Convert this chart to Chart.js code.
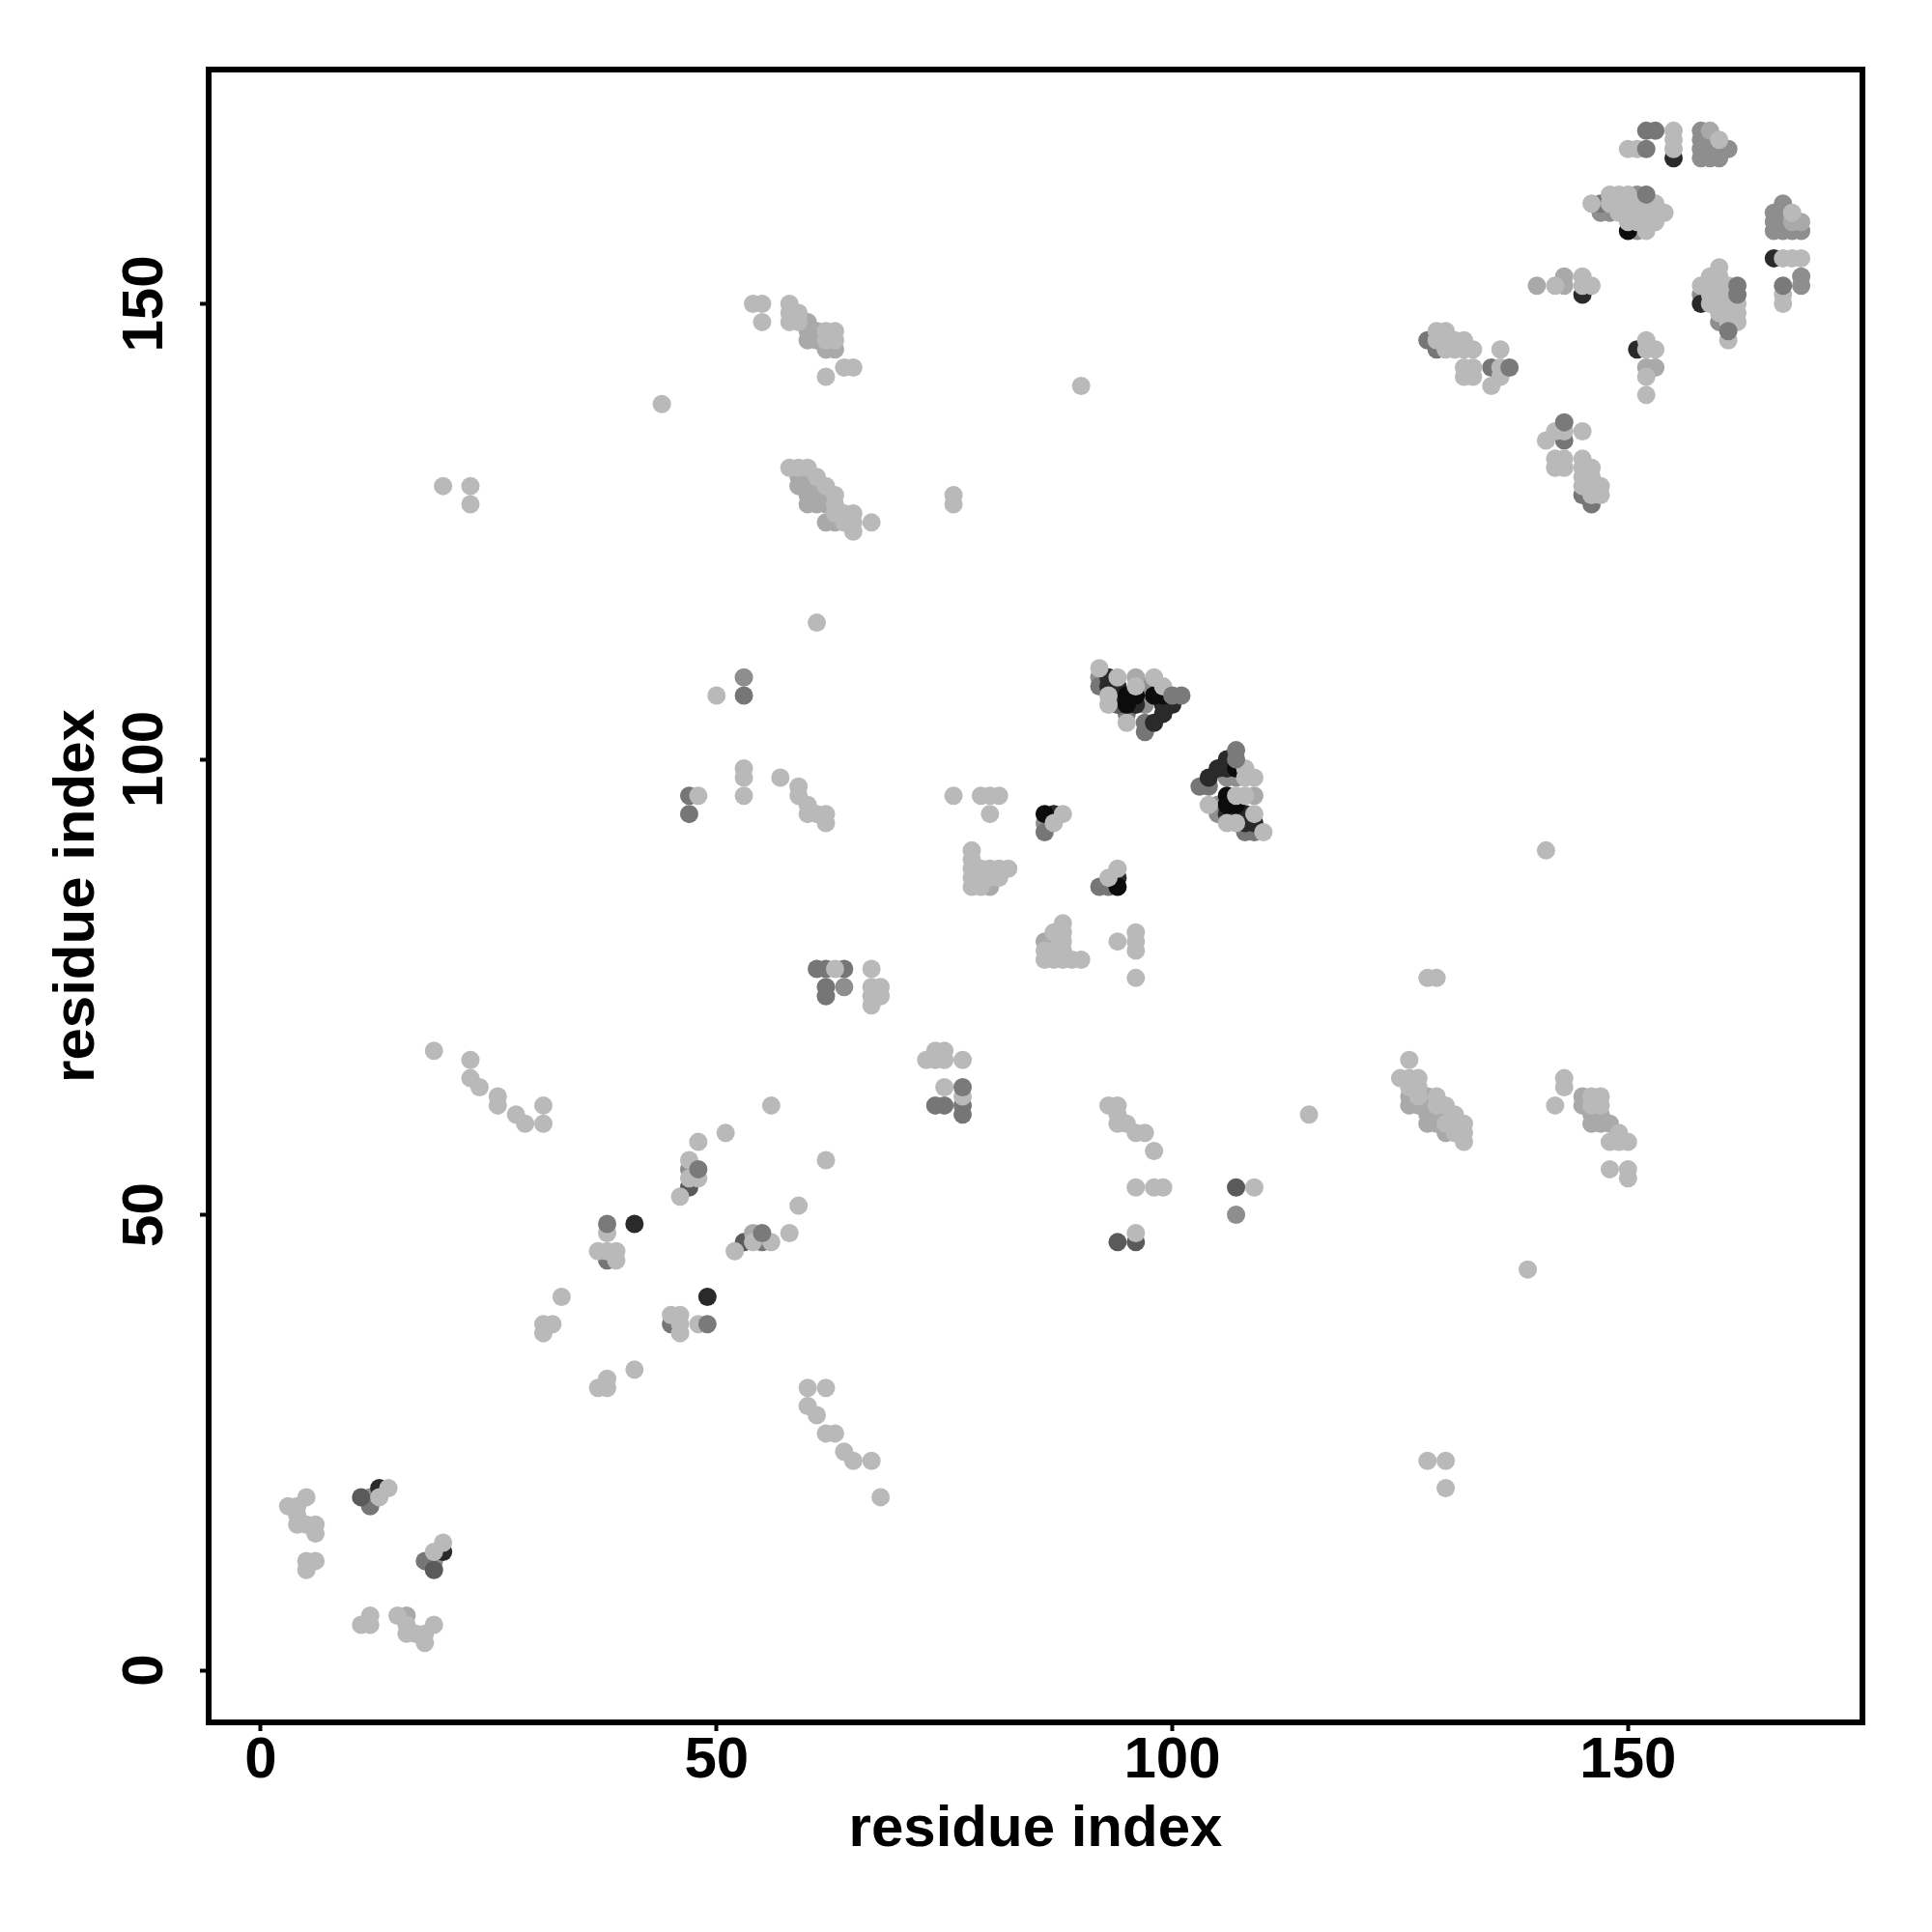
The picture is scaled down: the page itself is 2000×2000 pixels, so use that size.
<!DOCTYPE html>
<html>
<head>
<meta charset="utf-8">
<style>
  html, body { margin: 0; background: #fff; }
  canvas { display: block; }
</style>
<script src="https://cdn.jsdelivr.net/npm/chart.js@4/dist/chart.umd.min.js"></script>
</head>
<body>
<canvas id="chart" width="2000" height="2000"></canvas>
<script>
const tickValues = [0, 50, 100, 150];
const xLabel = 'residue index';
const yLabel = 'residue index';

// contacts as [residue x, residue y], one list per grey level
const greyPoints = [[158,169],[158,168],[158,167],[158,166],[159,168],[159,167],[161,167],[160,166],[159,166],[160,167],[151,162],[148,160],[147,160],[167,161],[166,160],[166,159],[166,158],[167,160],[167,159],[167,158],[168,158],[169,158],[169,153],[169,152],[158,151],[160,148],[161,148],[151,158],[92,109],[97,108],[97,107],[97,106],[106,98],[107,98],[105,95],[105,94],[86,93],[53,109],[107,50],[64,75],[12,19],[19,12],[47,55]];
const midPoints = [[152,169],[153,169],[147,161],[128,146],[129,145],[135,143],[143,135],[145,129],[146,128],[92,108],[95,105],[103,97],[104,97],[97,104],[97,103],[108,92],[109,92],[86,92],[92,86],[93,86],[61,77],[62,77],[64,77],[62,75],[62,74],[74,62],[75,62],[77,62],[77,61],[55,47],[38,45],[45,38],[47,96],[47,94],[53,107],[12,18],[18,12]];
const slatePoints = [[94,106],[47,53],[53,47],[94,47],[107,53],[96,47],[11,19],[19,11]];
const darkPoints = [[155,166],[145,151],[93,109],[93,108],[94,108],[94,107],[96,106],[98,104],[99,105],[99,106],[100,106],[94,87],[87,94],[106,100],[105,99],[106,99],[104,98],[107,94],[108,94],[108,93],[109,93],[41,49],[49,41],[13,20],[20,13],[106,94],[151,145],[158,150],[166,155]];
const blackPoints = [[150,158],[95,107],[95,106],[96,107],[98,107],[99,107],[107,99],[106,96],[106,95],[107,95],[86,94],[94,86]];
const palePoints = [[159,169],[169,159],[168,159],[143,153],[143,152],[152,143],[153,143],[96,109],[109,96],[60,148],[60,147],[60,146],[61,147],[61,146],[62,145],[63,145],[59,131],[59,130],[60,131],[60,130],[60,129],[61,130],[61,129],[62,129],[60,128],[61,128],[62,128],[62,126],[63,126],[80,86],[86,80],[87,80],[126,63],[126,62],[127,62],[128,63],[128,62],[128,61],[128,60],[129,61],[129,60],[130,59],[130,61],[145,63],[145,62],[146,61],[146,60],[147,61],[147,60],[148,60],[54,48],[16,6],[140,152]];
const lightPoints = [[150,167],[151,167],[155,169],[155,168],[155,167],[160,168],[146,161],[148,162],[149,162],[150,162],[148,161],[149,161],[150,161],[151,161],[152,161],[153,161],[149,160],[150,160],[151,160],[152,160],[153,160],[154,160],[150,159],[151,159],[152,159],[153,159],[152,158],[168,160],[167,155],[168,155],[169,155],[167,151],[167,150],
  [160,154],[159,153],[160,153],[158,152],[159,152],[160,152],[161,152],[159,151],[160,151],[161,151],[159,150],[160,150],[161,150],[162,150],[160,149],[161,149],[162,149],[161,148],[162,148],[161,146],[142,152],[145,153],[145,152],[146,152],[152,146],[152,145],[153,145],[152,142],[152,140],
  [129,147],[130,147],[129,146],[130,146],[131,146],[132,146],[130,145],[131,145],[132,145],[133,145],[132,143],[133,143],[132,142],[133,142],[136,145],[136,143],[136,142],[135,141],[142,136],[143,136],[145,136],[141,135],[142,133],[143,133],[142,132],[143,132],[145,133],[145,132],[146,132],[145,131],[146,131],[145,130],[146,130],[147,130],[146,129],[147,129],
  [54,150],[55,150],[55,148],[58,150],[58,149],[58,148],[59,149],[59,148],[62,147],[63,147],[62,146],[63,146],[64,143],[65,143],[62,142],[58,132],[59,132],[60,132],[61,131],[62,130],[63,129],[63,128],[63,127],[64,127],[65,127],[64,126],[65,126],[65,125],[67,126],
  [92,110],[94,109],[98,109],[99,108],[93,107],[93,106],[95,104],[96,108],[108,99],[109,98],[108,98],[104,95],[107,96],[108,96],[109,94],[106,93],[107,93],[110,92],
  [76,96],[79,96],[80,96],[81,96],[80,94],[88,94],[87,93],[78,90],[78,89],[78,88],[78,87],[78,86],[79,88],[80,88],[81,88],[82,88],[79,87],[80,87],[81,87],[79,86],[94,88],[93,87],[88,82],[87,81],[88,81],[88,80],[88,79],[88,78],[87,79],[86,79],[86,78],[87,78],[89,78],[90,78],[96,81],[96,80],[96,79],[94,80],[96,76],
  [74,68],[75,68],[73,67],[74,67],[75,67],[77,67],[75,64],[77,63],[93,62],[94,62],[94,61],[94,60],[95,60],[96,59],[97,59],[98,57],[96,53],[98,53],[99,53],[96,48],
  [126,67],[125,65],[126,65],[127,65],[126,64],[127,64],[127,63],[129,63],[130,62],[131,61],[132,60],[132,59],[132,58],[131,60],[130,60],[131,59],[129,62],[143,65],[143,64],[142,62],[146,63],[147,63],[146,62],[147,62],[149,59],[148,58],[149,58],[150,58],[148,55],[150,55],[150,54],
  [29,60],[31,60],[31,62],[48,58],[51,59],[47,56],[47,54],[48,54],[46,52],[38,48],[37,46],[38,46],[39,46],[39,45],[59,51],[58,48],[54,47],[56,47],[52,46],[33,41],[31,38],[32,38],[31,37],[45,39],[46,39],[46,38],[46,37],[48,38],
  [139,44],[41,33],[38,32],[38,31],[37,31],[60,31],[62,31],[60,29],[61,28],[62,26],[63,26],[64,24],[65,23],[67,23],[68,19],[128,23],[130,23],[130,20],[62,56],[56,62],[19,68],[23,67],[23,65],[24,64],[26,63],[26,62],[28,61],[44,139],[90,141],[20,130],[23,130],[23,128],[76,129],[76,128],[61,115],[50,107],[53,99],[53,98],[53,96],[48,96],[57,98],[59,97],[59,96],[60,95],[60,94],[61,94],[62,94],[62,93],[141,90],[128,76],[129,76],[63,77],[67,77],[67,75],[67,74],[67,73],[68,75],[68,74],[115,61],[109,53],
  [3,18],[5,19],[4,18],[4,17],[4,16],[5,16],[6,16],[6,15],[5,12],[6,12],[5,11],[13,19],[14,20],[20,14],[19,13],[11,5],[12,6],[12,5],[15,6],[16,5],[16,4],[17,4],[18,4],[18,3],[19,5]];
// these sit on top of the light ones in the picture
const topPoints = [[152,167],[152,162],[162,152],[162,151],[161,147],[137,143],[143,137],[167,152],[77,64],[38,49],[48,55],[55,48],[49,38],[100,107],[101,107],[107,101],[107,100]];

// bottom to top
const shadeGroups = [
  { points: greyPoints, color: '#8e8e8e' },
  { points: midPoints, color: '#767676' },
  { points: slatePoints, color: '#5a5a5a' },
  { points: darkPoints, color: '#2a2a2a' },
  { points: blackPoints, color: '#0c0c0c' },
  { points: palePoints, color: '#a9a9a9' },
  { points: lightPoints, color: '#b9b9b9' },
  { points: topPoints, color: '#7a7a7a' },
];

const axisFont = 'Liberation Sans';

function axisOptions(title, fit, tickExtra, titlePadding) {
  return {
    type: 'linear',
    min: -5.72,
    max: 175.72,
    afterBuildTicks: (scale) => {
      scale.ticks = tickValues.map((v) => ({ value: v }));
    },
    afterFit: fit,
    border: { display: false },
    grid: {
      drawOnChartArea: false,
      drawTicks: true,
      tickLength: 9,
      tickWidth: 4,
      tickColor: '#000',
    },
    ticks: Object.assign(
      {
        color: '#000',
        font: { family: axisFont, weight: 'bold', size: 60 },
        autoSkip: false,
      },
      tickExtra
    ),
    title: {
      display: true,
      text: title,
      color: '#000',
      font: { family: axisFont, weight: 'bold', size: 60 },
      padding: titlePadding,
    },
  };
}

// box around the plot, R style
const framePlugin = {
  id: 'frame',
  afterDraw(chart) {
    const a = chart.chartArea;
    const ctx = chart.ctx;
    ctx.save();
    ctx.strokeStyle = '#000';
    ctx.lineWidth = 6;
    ctx.strokeRect(a.left, a.top, a.right - a.left, a.bottom - a.top);
    ctx.restore();
  },
};

new Chart(document.getElementById('chart'), {
  type: 'scatter',
  data: {
    datasets: shadeGroups.map((group, i) => ({
      data: group.points.map((p) => ({ x: p[0], y: p[1] })),
      backgroundColor: group.color,
      borderWidth: 0,
      pointRadius: 9.5,
      order: shadeGroups.length - i,
    })),
  },
  options: {
    responsive: false,
    animation: false,
    layout: { padding: { top: 72, right: 72, left: 0, bottom: 0 } },
    plugins: { legend: { display: false }, tooltip: { enabled: false } },
    scales: {
      x: axisOptions(
        xLabel,
        (scale) => { scale.height = 217; },
        { maxRotation: 0, minRotation: 0, padding: -5 },
        { top: 0, bottom: 70 }
      ),
      y: axisOptions(
        yLabel,
        (scale) => { scale.width = 216; },
        { minRotation: 90, maxRotation: 90, crossAlign: 'center', padding: 5 },
        { top: 44, bottom: 0 }
      ),
    },
  },
  plugins: [framePlugin],
});
</script>
</body>
</html>
